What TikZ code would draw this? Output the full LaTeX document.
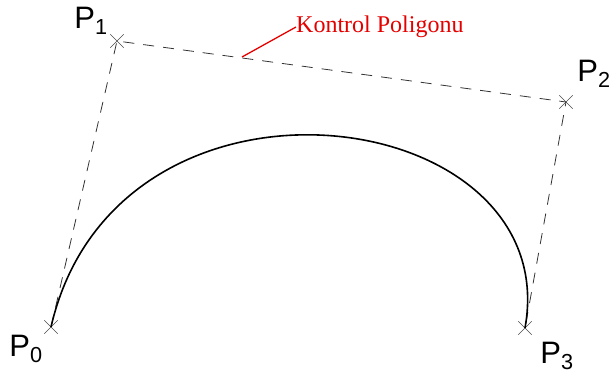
\documentclass[tikz,border=0pt]{standalone}
\usepackage{fontspec}
\setmainfont{Liberation Serif}
\setsansfont{Liberation Sans}
\usetikzlibrary{shapes.misc, positioning}

\begin{document}
\begin{tikzpicture}[x=1pt, y=-1pt,
    ctrlpt/.style={cross out, draw=black!70, thin, minimum size=13pt, inner sep=0pt},
    ptlabel/.style={font=\sffamily\fontsize{31}{31}\selectfont, inner sep=0pt},
    polyline/.style={dashed, dash pattern=on 11pt off 9pt, black!80, line width=0.8pt}]
    \useasboundingbox (0,0) rectangle (610,374);

    % Control points
    \node[ctrlpt] (P0) at (51,327) {};
    \node[ctrlpt] (P1) at (117,41) {};
    \node[ctrlpt] (P2) at (566,102) {};
    \node[ctrlpt] (P3) at (525,328) {};

    % Labels
    \node[ptlabel] (L0) at (26,349) {P\textsubscript{0}};
    \node[ptlabel] (L1) at (91,21) {P\textsubscript{1}};
    \node[ptlabel] (L2) at (594,74) {P\textsubscript{2}};
    \node[ptlabel] (L3) at (557,356) {P\textsubscript{3}};

    % Control polygon
    \draw[polyline] (P0.center) -- (P1.center) -- (P2.center) -- (P3.center);

    % Bezier curve
    \draw[line width=1.6pt] (P0.center) .. controls (P1.center) and (P2.center) .. (P3.center);

    % Annotation
    \node[red!90!black, font=\fontsize{24}{24}\selectfont, anchor=west, inner sep=0pt] (ann) at (296,27) {Kontrol Poligonu};
    \coordinate (tip) at (242,57);
    \draw[red!90!black, line width=1.3pt] (tip) -- (ann.west);
\end{tikzpicture}
\end{document}
